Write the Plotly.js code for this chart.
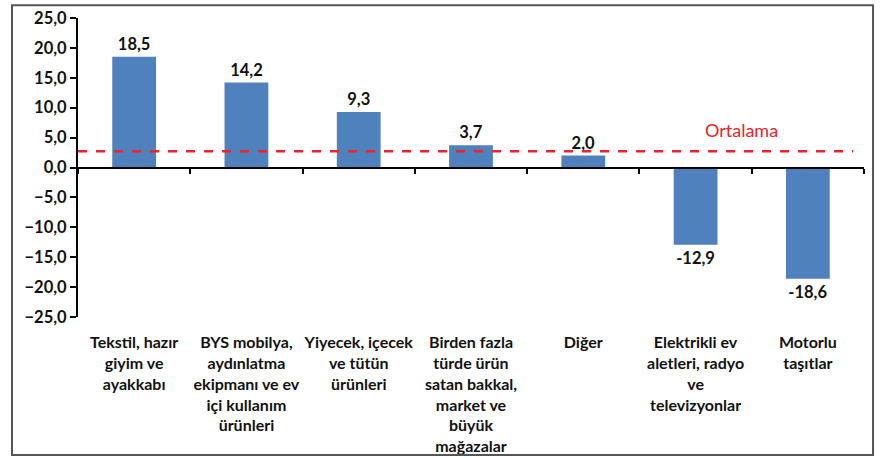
<!DOCTYPE html>
<html>
<head>
<meta charset="utf-8">
<script src="https://cdn.plot.ly/plotly-3.0.1.min.js"></script>
<style>html,body{margin:0;padding:0;background:#fff;}#chart{width:881px;height:458px;}</style>
</head>
<body>
<div id="chart"></div>
<script>
const categories = [
  "Tekstil, hazır<br>giyim ve<br>ayakkabı",
  "BYS mobilya,<br>aydınlatma<br>ekipmanı ve ev<br>içi kullanım<br>ürünleri",
  "Yiyecek, içecek<br>ve tütün<br>ürünleri",
  "Birden fazla<br>türde ürün<br>satan bakkal,<br>market ve<br>büyük<br>mağazalar",
  "Diğer",
  "Elektrikli ev<br>aletleri, radyo<br>ve<br>televizyonlar",
  "Motorlu<br>taşıtlar"
];
const values = [18.5, 14.2, 9.3, 3.7, 2.0, -12.9, -18.6];
const averageValue = 2.7;
const averageLabel = "Ortalama";
const yTickValues = [-25, -20, -15, -10, -5, 0, 5, 10, 15, 20, 25];
const yRange = [-25, 25];

const FONT = "Lato, 'Open Sans', sans-serif";

const traces = [
  {
    type: "bar",
    x: categories,
    y: values,
    marker: {color: "#4F81BD"},
    texttemplate: "%{y:.1f}",
    textposition: "outside",
    textfont: {family: FONT, size: 16.5, color: "#111", weight: "bold"},
    cliponaxis: false,
    hoverinfo: "skip",
    xaxis: "x",
    yaxis: "y"
  },
  {
    type: "scatter",
    mode: "markers",
    x: categories,
    y: values.map(() => 0),
    marker: {opacity: 0},
    hoverinfo: "skip",
    showlegend: false,
    xaxis: "x2",
    yaxis: "y"
  }
];

const zeroFrac = (0 - yRange[0]) / (yRange[1] - yRange[0]);

const layout = {
  width: 881,
  height: 458,
  margin: {l: 78, r: 17, t: 18, b: 141},
  paper_bgcolor: "#fff",
  plot_bgcolor: "#fff",
  showlegend: false,
  separators: ",.",
  bargap: 0.61,
  font: {family: FONT, color: "#111"},
  xaxis: {
    type: "category",
    range: [-0.5, categories.length - 0.5],
    showline: false,
    showgrid: false,
    zeroline: false,
    ticks: "outside",
    ticklen: 11,
    tickcolor: "rgba(0,0,0,0)",
    tickangle: 0,
    tickfont: {family: FONT, size: 16, color: "#111", weight: "bold"},
    fixedrange: true
  },
  xaxis2: {
    type: "category",
    overlaying: "x",
    anchor: "free",
    position: zeroFrac,
    range: [-0.5, categories.length - 0.5],
    showline: true,
    linecolor: "#000",
    linewidth: 2,
    ticks: "outside",
    tickson: "boundaries",
    ticklen: 5,
    tickwidth: 2,
    tickcolor: "#000",
    showticklabels: false,
    showgrid: false,
    zeroline: false
  },
  yaxis: {
    range: yRange,
    tickvals: yTickValues,
    tickformat: ".1f",
    showline: true,
    linecolor: "#000",
    linewidth: 2,
    ticks: "outside",
    ticklen: 6,
    tickwidth: 2,
    tickcolor: "#000",
    showgrid: false,
    zeroline: false,
    tickfont: {family: FONT, size: 16.5, color: "#111", weight: "bold"},
    fixedrange: true
  },
  shapes: [
    {
      type: "line", xref: "paper", yref: "y",
      x0: 0, x1: 0.986, y0: averageValue, y1: averageValue,
      line: {color: "#e8262b", width: 2.5, dash: "dash"}
    },
    {
      type: "rect", xref: "paper", yref: "paper",
      x0: -0.084, x1: 1.0115, y0: -0.4615, y1: 1.043,
      line: {color: "#555", width: 2}
    }
  ],
  annotations: [
    {
      x: 5.41, y: 6.2, xref: "x", yref: "y",
      text: averageLabel, showarrow: false,
      font: {family: FONT, size: 18, color: "#e0262b"}
    }
  ]
};

Plotly.newPlot("chart", traces, layout, {displayModeBar: false, staticPlot: true});
</script>
</body>
</html>
